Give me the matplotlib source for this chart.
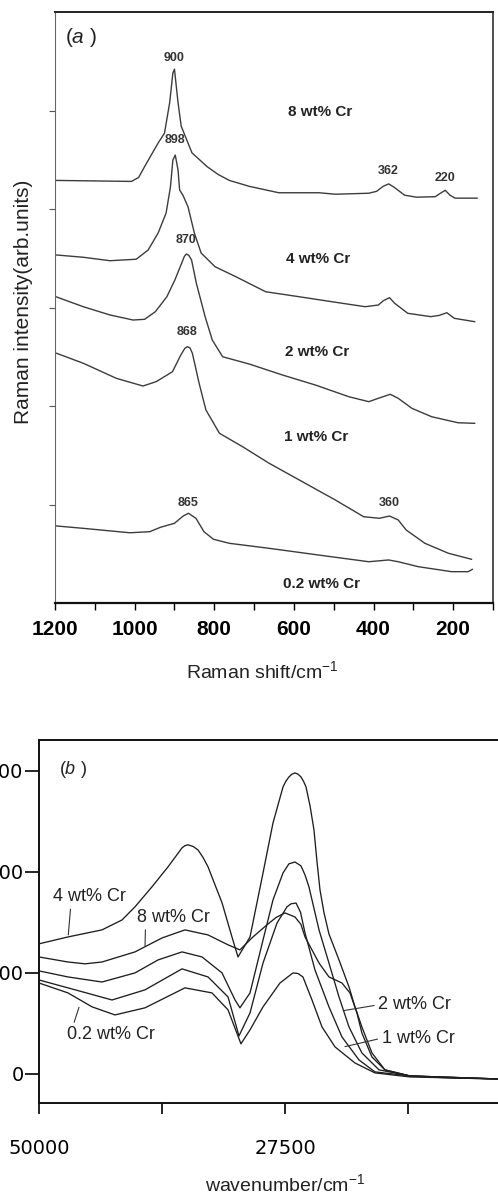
import matplotlib
matplotlib.use("Agg")
import matplotlib.pyplot as plt

plt.rcParams['font.family'] = ['Liberation Sans', 'DejaVu Sans']
plt.rcParams['mathtext.fontset'] = 'custom'
plt.rcParams['mathtext.rm'] = 'Liberation Sans'
plt.rcParams['mathtext.it'] = 'Liberation Sans:italic'

# ---- (a) Raman spectra, offset per loading (arb. units) ----
shift_8 = [1196, 1100, 1008, 990, 975, 941, 925, 912, 904, 900, 891, 883, 856, 818, 790, 762, 712, 638,
           537, 496, 412, 392, 376, 362, 348, 322, 292, 245, 232, 220, 208, 195, 140]
int_8 = [4.29, 4.285, 4.28, 4.32, 4.43, 4.67, 4.77, 5.08, 5.38, 5.42, 5.08, 4.84, 4.57, 4.43, 4.35, 4.29, 4.23, 4.165,
         4.165, 4.15, 4.16, 4.18, 4.23, 4.255, 4.22, 4.14, 4.12, 4.125, 4.16, 4.19, 4.14, 4.11, 4.11]

shift_4 = [1196, 1129, 1062, 996, 966, 941, 921, 910, 904, 898, 891, 887, 879, 866, 850, 833,
           798, 746, 671, 588, 505, 421, 388, 375, 360, 347, 314, 256, 235, 216, 197, 146]
int_4 = [3.533, 3.51, 3.475, 3.49, 3.584, 3.756, 3.959, 4.226, 4.497, 4.548, 4.396, 4.193, 4.142, 4.023, 3.756, 3.553,
         3.414, 3.313, 3.16, 3.11, 3.059, 3.008, 3.025, 3.07, 3.10, 3.043, 2.941, 2.907, 2.92, 2.947, 2.89, 2.856]

shift_2 = [1196, 1129, 1062, 1004, 975, 948, 919, 899, 882, 875, 870, 864, 857, 845, 823, 805, 779, 712,
           629, 546, 462, 412, 388, 358, 338, 304, 254, 188, 146]
int_2 = [3.107, 3.008, 2.924, 2.873, 2.88, 2.957, 3.11, 3.279, 3.449, 3.52, 3.543, 3.53, 3.482, 3.246, 2.907, 2.67, 2.50, 2.426,
         2.315, 2.213, 2.094, 2.044, 2.078, 2.119, 2.078, 1.977, 1.891, 1.83, 1.824]

shift_1 = [1196, 1129, 1046, 979, 946, 905, 884, 874, 868, 861, 855, 838, 821, 787, 729, 662, 579, 496,
           425, 385, 360, 338, 318, 271, 212, 154]
int_1 = [2.535, 2.434, 2.281, 2.203, 2.247, 2.348, 2.518, 2.585, 2.602, 2.59, 2.535, 2.23, 1.96, 1.723, 1.587, 1.418, 1.232, 1.046,
         0.876, 0.86, 0.883, 0.843, 0.741, 0.606, 0.505, 0.444]

shift_02 = [1196, 1129, 1012, 962, 935, 900, 878, 865, 846, 826, 802, 762, 662, 538, 412, 362,
            338, 288, 204, 162, 152]
int_02 = [0.782, 0.758, 0.713, 0.724, 0.769, 0.809, 0.883, 0.911, 0.86, 0.724, 0.647, 0.606, 0.555, 0.487, 0.419, 0.437,
          0.419, 0.369, 0.318, 0.318, 0.342]

# band positions written above the peaks: (text, shift, height)
peak_labels = [("900", 900, 5.53), ("898", 898, 4.70), ("870", 870, 3.69), ("868", 868, 2.755),
               ("865", 865, 1.02), ("362", 362, 4.386), ("220", 220, 4.318), ("360", 360, 1.012)]
# sample names: (text, shift, height)
raman_names = [("8 wt% Cr", 533, 4.98), ("4 wt% Cr", 538, 3.49), ("2 wt% Cr", 542, 2.55),
               ("1 wt% Cr", 544, 1.69), ("0.2 wt% Cr", 530, 0.19)]

# ---- (b) UV-vis DRS spectra ----
wn_4 = [50000, 47350, 44240, 42410, 41220, 39670, 38200, 36920, 36650, 36370, 35900, 35460, 35000, 34540,
        33260, 32350, 31800, 30700, 29510, 28600, 27680, 27410, 27140, 26860, 26590, 26310, 26040, 25810,
        25580, 25210, 24850, 24570, 24300, 23930, 23480, 22560, 21650, 21100, 20470, 19550, 18360, 16070,
        12410, 8020]
ab_4 = [644, 678, 713, 762, 827, 926, 1025, 1119, 1130, 1134, 1126, 1109, 1072, 1025,
        847, 678, 579, 678, 995, 1242, 1421, 1450, 1470, 1484, 1490, 1484, 1470, 1449,
        1421, 1327, 1208, 1049, 911, 797, 693, 564, 431, 332, 233, 104, 20, -10,
        -20, -25]

wn_8 = [50000, 47350, 45790, 44240, 41220, 38750, 36650, 34540, 32710, 31620, 30430, 29150, 28300, 27500,
        26590, 26040, 25670, 24390, 23480, 22290, 21560, 20920, 20470, 19550, 18360, 16070, 8020]
ab_8 = [579, 554, 545, 554, 604, 673, 713, 688, 639, 614, 678, 738, 775, 797,
        777, 740, 678, 549, 480, 450, 401, 302, 203, 84, 20, -10, -25]

wn_2 = [50000, 47350, 44240, 41220, 39120, 36920, 35090, 33260, 32070, 31620, 30700, 29510, 28600,
        27680, 27140, 26590, 26040, 25670, 25310, 24390, 23480, 22560, 21650, 20470, 18900, 16070, 8020]
ab_2 = [510, 480, 455, 500, 564, 604, 579, 500, 366, 327, 401, 663, 861,
        995, 1040, 1049, 1030, 985, 926, 713, 549, 381, 233, 104, 20, -10, -25]

wn_1 = [50000, 47350, 43320, 40310, 36920, 34540, 32710, 31710, 30700, 29510, 28230, 27320, 26950, 26490,
        26080, 25670, 24760, 23480, 22290, 20730, 19270, 16070, 8020]
ab_1 = [465, 426, 366, 416, 520, 480, 381, 188, 302, 549, 747, 827, 842, 846,
        800, 698, 515, 332, 183, 69, 10, -10, -25]

wn_02 = [50000, 47350, 45150, 43050, 40310, 36650, 34180, 32710, 31530, 30700, 29510, 27960, 26770,
         26310, 25860, 25030, 24120, 22930, 21100, 19270, 16070, 8020]
ab_02 = [450, 401, 332, 292, 327, 426, 401, 317, 149, 218, 332, 450, 500,
         497, 480, 366, 233, 134, 54, 5, -15, -25]

# sample names with leader lines: (text, text wn, text abs, curve wn, curve abs, relpos)
uv_names = [("4 wt% Cr", 48690, 878, 47320, 688, (0.24, 0.0)),
            ("8 wt% Cr", 41060, 776, 40300, 634, (0.12, 0.0)),
            ("0.2 wt% Cr", 47470, 193, 46340, 330, (0.07, 1.0)),
            ("2 wt% Cr", 18970, 342, 22170, 313, (0.0, 0.5)),
            ("1 wt% Cr", 18660, 177, 22010, 135, (0.0, 0.5))]

fig = plt.figure(figsize=(4.98, 11.96), dpi=100)
W, H = 498.0, 1196.0

# ---------------- panel (a) ----------------
ax_a = fig.add_axes([55 / W, 1 - 603 / H, 438 / W, 591 / H])
line_a = dict(color='#3c3c3c', lw=1.0)
for s, i in [(shift_8, int_8), (shift_4, int_4), (shift_2, int_2), (shift_1, int_1), (shift_02, int_02)]:
    ax_a.plot(s, i, **line_a)

ax_a.set_xlim(1200, 100)
ax_a.set_ylim(0, 6)
ax_a.set_xticks([1200, 1000, 800, 600, 400, 200])
ax_a.set_xticks([1100, 900, 700, 500, 300, 100], minor=True)
ax_a.set_yticks([1, 2, 3, 4, 5])
ax_a.set_yticklabels([])
ax_a.tick_params(axis='x', which='both', direction='out', length=5, width=1.0, labelsize=15, pad=7)
ax_a.tick_params(axis='y', direction='out', length=4, width=0.8, color='#555')
for lbl in ax_a.get_xticklabels():
    lbl.set_fontweight('bold')
ax_a.spines['left'].set(linewidth=0.8, color='#666')
ax_a.spines['bottom'].set(linewidth=1.6, color='#111')
ax_a.spines['top'].set(linewidth=1.4, color='#222')
ax_a.spines['right'].set(linewidth=1.2, color='#333')

ax_a.set_ylabel("Raman intensity(arb.units)", fontsize=15, color='#222')
ax_a.yaxis.set_label_coords(-0.05, 0.51)
ax_a.set_xlabel("Raman shift/cm$^{-1}$", fontsize=14, color='#222')
ax_a.xaxis.set_label_coords(0.473, -0.097)

ax_a.text(1135, 5.74, "($\\it{a}$ )", fontsize=15, ha='center', va='center', color='#222')
for txt, x, y in peak_labels:
    ax_a.text(x, y, txt, fontsize=9, fontweight='bold', ha='center', va='center', color='#333')
for txt, x, y in raman_names:
    ax_a.text(x, y, txt, fontsize=11, fontweight='bold', ha='center', va='center', color='#222')

# ---------------- panel (b) ----------------
ax_b = fig.add_axes([39 / W, 1 - 1103 / H, 492 / W, 363 / H])
line_b = dict(color='#1e1e1e', lw=0.95)
for w, a in [(wn_4, ab_4), (wn_8, ab_8), (wn_2, ab_2), (wn_1, ab_1), (wn_02, ab_02)]:
    ax_b.plot(w, a, **line_b)

ax_b.set_xlim(50000, 5000)
ax_b.set_ylim(-144, 1653)
ax_b.set_xticks([50000, 38750, 27500, 16250, 5000])
ax_b.set_xticklabels(['50000', '', '27500', '', ''], family='DejaVu Sans')
ax_b.set_yticks([0, 500, 1000, 1500])
ax_b.set_yticklabels(['0', '500', '1000', '1500'], family='DejaVu Sans')
ax_b.tick_params(axis='x', direction='out', length=8, width=1.2, labelsize=14, pad=18)
ax_b.tick_params(axis='y', direction='out', length=10, width=1.2, labelsize=14, pad=1)
for side in ['left', 'bottom', 'top']:
    ax_b.spines[side].set(linewidth=1.4, color='#111')
ax_b.spines['right'].set_visible(False)

ax_b.set_xlabel("wavenumber/cm$^{-1}$", fontsize=14, color='#222')
ax_b.xaxis.set_label_coords(0.5, -0.193)

ax_b.text(46890, 1505, "($\\it{b}$ )", fontsize=13, ha='center', va='center', color='#222')
for txt, tx, ty, cx, cy, rp in uv_names:
    ax_b.annotate(txt, xy=(cx, cy), xytext=(tx, ty), fontsize=13, ha='left', va='center', color='#222',
                  arrowprops=dict(arrowstyle='-', color='#333', lw=0.8, shrinkA=1, shrinkB=0, relpos=rp))

fig.savefig("out.png", dpi=100)
